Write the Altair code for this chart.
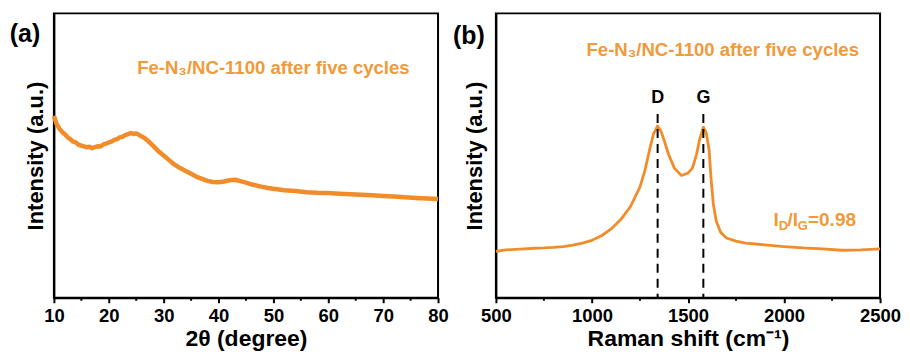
import altair as alt
import pandas as pd

# ---------------- data ----------------
xrd_2theta = [10, 10.5, 11, 11.5, 12, 12.5, 13, 13.5, 14, 14.5, 15, 15.5, 16, 16.5, 17, 17.5,
              18, 18.5, 19, 19.5, 20, 20.5, 21, 21.5, 22, 22.5, 23, 23.5, 24, 24.5, 25, 25.5,
              26, 26.5, 27, 27.5, 28, 28.5, 29, 29.5, 30, 31, 32, 33, 34, 35, 36, 37, 38, 39,
              40, 41, 42, 43, 44, 45, 46, 47, 48, 49, 50, 52, 54, 56, 58, 60, 62, 64, 66, 68,
              70, 72, 74, 76, 78, 80]
xrd_intensity = [64, 61, 59.5, 58.3, 57.5, 56.4, 55.8, 54.9, 54.6, 53.8, 53.5, 53.2, 52.9, 53.1,
                 52.6, 53.0, 53.3, 53.2, 53.9, 54.2, 54.6, 54.9, 55.5, 55.8, 56.4, 56.6, 57.2,
                 57.5, 57.9, 57.6, 57.8, 57.3, 56.7, 56.2, 55.4, 54.5, 53.6, 52.6, 51.6, 50.8,
                 50.0, 48.4, 46.8, 45.6, 44.6, 43.6, 42.5, 41.8, 41.1, 40.7, 40.6, 40.9, 41.3,
                 41.5, 41.0, 40.5, 39.9, 39.4, 39.0, 38.6, 38.3, 37.8, 37.5, 37.1, 36.9, 36.8,
                 36.6, 36.4, 36.2, 36.0, 35.8, 35.6, 35.3, 35.1, 34.9, 34.7]

raman_shift = [500, 550, 600, 650, 700, 750, 800, 850, 900, 950, 1000, 1050, 1100, 1150, 1200,
               1250, 1275, 1300, 1320, 1342, 1360, 1380, 1400, 1430, 1466, 1500, 1523, 1545,
               1560, 1580, 1595, 1610, 1620, 1632, 1647, 1670, 1700, 1750, 1800, 1900, 2000,
               2100, 2200, 2300, 2400, 2500]
raman_intensity = [16.3, 16.8, 17.0, 17.2, 17.4, 17.5, 17.7, 18.0, 18.5, 19.2, 20.2, 21.8, 24.2,
                   27.5, 32, 39, 44.5, 52, 57.5, 60.4, 58.5, 54.5, 50.2, 45.5, 43, 43.8, 45.6,
                   50.5, 55.5, 60, 58, 52, 42, 33, 27, 23, 21, 19.9, 19.2, 18.6, 18.0, 17.5,
                   17.2, 16.7, 16.8, 17.2]

xrd_ticks = [10, 20, 30, 40, 50, 60, 70, 80]
xrd_minor = [15, 25, 35, 45, 55, 65, 75]
raman_ticks = [500, 1000, 1500, 2000, 2500]
raman_minor = [750, 1250, 1750, 2250]

peak_names = ["D", "G"]
peak_pos = [1342, 1580]
peak_label_y = [70.4, 70.4]
peak_line_top = [64.6, 64.6]

sample_label = "Fe-N\u2083/NC-1100 after five cycles"
ratio_parts = ["I", "D", "/I", "G", "=0.98"]
ratio_x = [1945, 1972, 2018, 2072, 2125]
ratio_y = [25.3, 23.8, 25.3, 23.8, 25.3]
ratio_size = [19, 13, 19, 13, 19]

ORANGE = "#F28C28"
TEXT_ORANGE = "#F09A3A"
FONT = "Liberation Sans"
W, H = 385, 285

ydom = alt.Scale(domain=[0, 100], nice=False, zero=False)


def y_enc(pad):
    return alt.Y("v:Q", scale=ydom,
                 axis=alt.Axis(title="Intensity (a.u.)", labels=False, ticks=False,
                               titlePadding=pad, titleFontSize=22))


def x_axis(title, vals):
    return alt.Axis(title=title, values=vals, format="d", labelFlush=False, labelOverlap=False,
                    tickSize=5, labelPadding=4, titlePadding=2)


# ---------------- panel (a) ----------------
xs_a = alt.Scale(domain=[10, 80], nice=False, zero=False)
df_a = pd.DataFrame({"x": xrd_2theta, "v": xrd_intensity})
line_a = alt.Chart(df_a).mark_line(color=ORANGE, strokeWidth=4.5, strokeJoin="round").encode(
    x=alt.X("x:Q", scale=xs_a, axis=x_axis("2θ (degree)", xrd_ticks)),
    y=y_enc(6),
)
minor_a = alt.Chart(pd.DataFrame({"x": xrd_minor})).mark_rule(color="black", strokeWidth=2).encode(
    x=alt.X("x:Q", scale=xs_a), y=alt.value(H), y2=alt.value(H + 3)
)
title_a = alt.Chart(pd.DataFrame({"x": [50], "v": [80.7], "t": [sample_label]})).mark_text(
    font=FONT, fontSize=18.6, fontWeight="bold", color=TEXT_ORANGE, baseline="middle"
).encode(x=alt.X("x:Q", scale=xs_a), y=alt.Y("v:Q", scale=ydom), text="t:N")
tag_a = alt.Chart(pd.DataFrame({"t": ["(a)"]})).mark_text(
    font=FONT, fontSize=25, fontWeight="bold", color="black", baseline="middle"
).encode(x=alt.value(-29), y=alt.value(21), text="t:N")

panel_a = alt.layer(line_a, minor_a, title_a, tag_a).properties(width=W, height=H)

# ---------------- panel (b) ----------------
xs_b = alt.Scale(domain=[500, 2500], nice=False, zero=False)
df_b = pd.DataFrame({"x": raman_shift, "v": raman_intensity})
line_b = alt.Chart(df_b).mark_line(color=ORANGE, strokeWidth=2.8, strokeJoin="round").encode(
    x=alt.X("x:Q", scale=xs_b, axis=x_axis("Raman shift (cm\u207b\u00b9)", raman_ticks)),
    y=y_enc(9),
)
minor_b = alt.Chart(pd.DataFrame({"x": raman_minor})).mark_rule(color="black", strokeWidth=2).encode(
    x=alt.X("x:Q", scale=xs_b), y=alt.value(H), y2=alt.value(H + 3)
)
df_peaks = pd.DataFrame({"x": peak_pos, "name": peak_names, "ly": peak_label_y,
                         "top": peak_line_top, "bot": [0, 0]})
dash_b = alt.Chart(df_peaks).mark_rule(color="black", strokeWidth=2, strokeDash=[9, 6]).encode(
    x=alt.X("x:Q", scale=xs_b), y=alt.Y("top:Q", scale=ydom), y2="bot:Q"
)
plabel_b = alt.Chart(df_peaks).mark_text(
    font=FONT, fontSize=18, fontWeight="bold", color="black", baseline="middle"
).encode(x=alt.X("x:Q", scale=xs_b), y=alt.Y("ly:Q", scale=ydom), text="name:N")
title_b = alt.Chart(pd.DataFrame({"x": [1681], "v": [87], "t": [sample_label]})).mark_text(
    font=FONT, fontSize=18.6, fontWeight="bold", color=TEXT_ORANGE, baseline="middle"
).encode(x=alt.X("x:Q", scale=xs_b), y=alt.Y("v:Q", scale=ydom), text="t:N")
df_ratio = pd.DataFrame({"x": ratio_x, "v": ratio_y, "t": ratio_parts, "s": ratio_size})
ratio_b = alt.Chart(df_ratio).mark_text(
    font=FONT, fontWeight="bold", color=TEXT_ORANGE, align="left", baseline="alphabetic"
).encode(x=alt.X("x:Q", scale=xs_b), y=alt.Y("v:Q", scale=ydom), text="t:N",
         size=alt.Size("s:Q", scale=None, legend=None))
tag_b = alt.Chart(pd.DataFrame({"t": ["(b)"]})).mark_text(
    font=FONT, fontSize=25, fontWeight="bold", color="black", baseline="middle"
).encode(x=alt.value(-27), y=alt.value(23), text="t:N")

panel_b = alt.layer(line_b, minor_b, dash_b, plabel_b, title_b, ratio_b, tag_b).properties(
    width=W, height=H)

chart = alt.hconcat(panel_a, panel_b, spacing=58, bounds="flush").configure_view(
    stroke="black", strokeWidth=2
).configure_axis(
    grid=False, domainColor="black", domainWidth=2, tickColor="black", tickWidth=2,
    labelFont=FONT, labelFontSize=18.5, labelFontWeight="bold", labelColor="black",
    titleFont=FONT, titleFontSize=23, titleFontWeight="bold", titleColor="black",
).properties(
    padding={"left": 0, "top": 4, "right": 0, "bottom": 0}, background="white"
)

chart.save("out.html", embed_options={"renderer": "svg", "actions": False})
